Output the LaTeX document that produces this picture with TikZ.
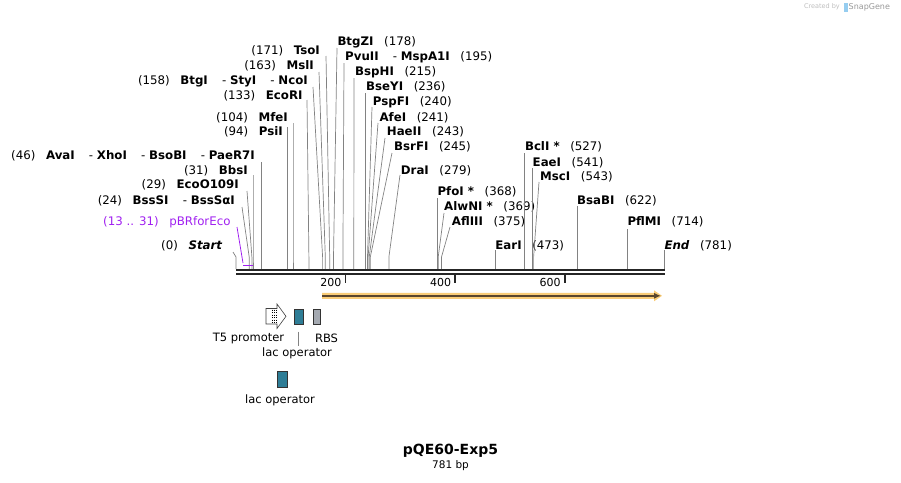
\documentclass[tikz,border=0pt]{standalone}
\usepackage{fontspec}
\setmainfont{DejaVu Sans}
\usetikzlibrary{arrows.meta}
\definecolor{siteg}{RGB}{130,130,130}
\definecolor{purp}{RGB}{160,32,240}
\definecolor{orng}{RGB}{250,205,120}
\definecolor{brwn}{RGB}{90,70,45}
\definecolor{opteal}{RGB}{46,125,150}
\definecolor{rbsg}{RGB}{165,170,178}
\definecolor{wmark}{RGB}{190,190,190}
\definecolor{wblue}{RGB}{150,205,240}
\tikzset{
  lbl/.style={inner sep=0pt, font=\fontsize{11.8}{13}\selectfont, text height=9.5pt, text depth=1.5pt},
  siteline/.style={draw=siteg, line width=0.7pt},
  featlbl/.style={inner sep=0pt, font=\fontsize{11.5}{13}\selectfont},
  featbox/.style={draw=black!80, line width=0.6pt},
}
\newcommand{\lsite}[7]{%
  \node[lbl,anchor=east] (#1) at (#2,#3) {#7};
  \coordinate (#1t) at (#4,#5);
  \coordinate (#1k) at (#6,257);
  \coordinate (#1s) at (#6,269);
  \draw[siteline] (#1t) -- (#1k) -- (#1s);
}
\newcommand{\rsite}[7]{%
  \node[lbl,anchor=west] (#1) at (#2,#3) {#7};
  \coordinate (#1t) at (#4,#5);
  \coordinate (#1k) at (#6,257);
  \coordinate (#1s) at (#6,269);
  \draw[siteline] (#1t) -- (#1k) -- (#1s);
}
\newcommand{\gap}{\hspace{0.9em}}
\newcommand{\dsep}{\hspace{1.2em}-\ }
\begin{document}
\begin{tikzpicture}[x=1pt,y=-1pt]
\useasboundingbox (0,0) rectangle (901,482);
% watermark
\node[inner sep=0, anchor=east, text=wmark, font=\fontsize{6.5}{7}\selectfont] (wm1) at (840,7) {Created by};
\fill[wblue] (844,2.5) rectangle (847.5,11.5);
\node[inner sep=0, anchor=west, text=wmark!80!black, font=\fontsize{8}{9}\selectfont] (wm2) at (848.5,7) {SnapGene};

% left labels
\lsite{start}{222.7}{245}{233}{252}{236}{(0)\gap\textbf{\itshape Start}}
\lsite{bsssi}{235}{200}{242}{207}{249.2}{(24)\gap\textbf{BssSI}\dsep\textbf{BssSαI}}
\lsite{eco109}{239}{184}{247}{191}{251.9}{(29)\gap\textbf{EcoO109I}}
\lsite{bbsi}{248}{170}{253}{175}{253}{(31)\gap\textbf{BbsI}}
\lsite{avai}{255}{155}{261.2}{162}{261.2}{(46)\gap\textbf{AvaI}\dsep\textbf{XhoI}\dsep\textbf{BsoBI}\dsep\textbf{PaeR7I}}
\lsite{psii}{283}{131.7}{287.5}{127}{287.5}{(94)\gap\textbf{PsiI}}
\lsite{mfei}{288}{117}{293}{123}{293}{(104)\gap\textbf{MfeI}}
\lsite{ecori}{302.7}{95}{307}{100}{308.9}{(133)\gap\textbf{EcoRI}}
\lsite{btgi}{308}{80}{313}{87}{322.6}{(158)\gap\textbf{BtgI}\dsep\textbf{StyI}\dsep\textbf{NcoI}}
\lsite{msli}{314}{65}{319}{72}{325.3}{(163)\gap\textbf{MslI}}
\lsite{tsoi}{320}{50.7}{326}{56}{329.7}{(171)\gap\textbf{TsoI}}

% right labels
\rsite{btgzi}{337.3}{41.7}{337}{48}{333.5}{\textbf{BtgZI}\gap(178)}
\rsite{pvuii}{345}{56.7}{344}{63}{342.9}{\textbf{PvuII}\dsep\textbf{MspA1I}\gap(195)}
\rsite{bsphi}{355}{71.7}{354}{78}{353.8}{\textbf{BspHI}\gap(215)}
\rsite{bseyi}{366}{86.7}{365.3}{93}{365.3}{\textbf{BseYI}\gap(236)}
\rsite{pspfi}{372.7}{101.7}{372}{107}{367.5}{\textbf{PspFI}\gap(240)}
\rsite{afei}{379.3}{117}{378}{123}{368.1}{\textbf{AfeI}\gap(241)}
\rsite{haeii}{386.7}{131.7}{385}{138}{369.2}{\textbf{HaeII}\gap(243)}
\rsite{bsrfi}{394}{146.7}{392}{153}{370.3}{\textbf{BsrFI}\gap(245)}
\rsite{drai}{400.7}{170}{400}{175}{388.9}{\textbf{DraI}\gap(279)}
\rsite{pfoi}{437.3}{191.7}{437.7}{198}{437.7}{\textbf{PfoI *}\gap(368)}
\rsite{alwni}{444}{206.7}{444}{213}{438.2}{\textbf{AlwNI *}\gap(369)}
\rsite{afliii}{451.7}{221.7}{450}{227}{441.5}{\textbf{AflIII}\gap(375)}
\rsite{eari}{495.2}{245}{495.2}{250}{495.2}{\textbf{EarI}\gap(473)}
\rsite{bcli}{524.8}{146.7}{524.8}{153}{524.8}{\textbf{BclI *}\gap(527)}
\rsite{eaei}{532.5}{162.3}{532.5}{168}{532.5}{\textbf{EaeI}\gap(541)}
\rsite{msci}{540}{176.7}{539}{182}{533.6}{\textbf{MscI}\gap(543)}
\rsite{bsabi}{576.9}{200}{576.9}{206}{576.9}{\textbf{BsaBI}\gap(622)}
\rsite{pflmi}{627.3}{221.7}{627.3}{229}{627.3}{\textbf{PflMI}\gap(714)}
\rsite{endl}{664.3}{245}{664.3}{250}{664.3}{\textbf{\itshape End}\gap(781)}

% primer pBRforEco
\node[lbl,anchor=east,text=purp] (pbr) at (230.7,221.7) {(13 .. 31)\gap pBRforEco};
\coordinate (pbrt) at (237,227);
\coordinate (pbrb) at (243,263);
\coordinate (pbrL) at (243.1,265.5);
\coordinate (pbrR) at (253,265.5);
\draw[draw=purp, line width=0.8pt] (pbrt) -- (pbrb);
\draw[draw=purp, line width=1.8pt] (pbrL) -- (pbrR);

% backbone
\coordinate (bbL1) at (236,270.2);
\coordinate (bbR1) at (665,270.2);
\coordinate (bbL2) at (236,274.2);
\coordinate (bbR2) at (665,274.2);
\draw[line width=2.3pt, black!85] (bbL1) -- (bbR1);
\draw[line width=2.3pt, black!85] (bbL2) -- (bbR2);

% ticks
\foreach \v/\xx in {200/345.6, 400/455.2, 600/564.8}{
  \coordinate (tk\v a) at (\xx,275);
  \coordinate (tk\v b) at (\xx,283);
  \draw[line width=1.6pt, black!85] (tk\v a) -- (tk\v b);
  \node[inner sep=0, anchor=east, font=\fontsize{11}{12}\selectfont] (tl\v) at (\xx-4,282.3) {\v};
}

% ORF feature
\coordinate (orfL) at (322,295.8);
\coordinate (orfT) at (661,295.8);
\fill[orng] (322,292.8) -- (654,292.8) -- (654,290.3) -- (662,295.8) -- (654,301.3) -- (654,298.8) -- (322,298.8) -- cycle;
\draw[draw=brwn, line width=1.6pt, -{Latex[length=7pt,width=6pt]}] (orfL) -- (orfT);

% T5 promoter
\draw[draw=black!75, fill=white, line width=0.6pt] (266,308.5) -- (277,308.5) -- (277,304) -- (286,316.3) -- (277,328.5) -- (277,324) -- (266,324) -- cycle;
\foreach \dx in {272,274,276}{
  \draw[black, line width=0.5pt, dotted] (\dx,309.5) -- (\dx,323);
}
% lac operator and RBS boxes
\node[featbox, fill=opteal, minimum width=9pt, minimum height=15.5pt, inner sep=0] (lac1) at (298.8,316.8) {};
\node[featbox, fill=rbsg, minimum width=7pt, minimum height=15.5pt, inner sep=0] (rbs) at (316.7,316.8) {};
\node[featbox, fill=opteal, minimum width=10pt, minimum height=15.5pt, inner sep=0] (lac2) at (282,379.5) {};

\node[featlbl] (t5lbl) at (248.5,338) {T5 promoter};
\node[featlbl] (rbslbl) at (326.5,338) {RBS};
\node[featlbl] (lac1lbl) at (297,353.5) {lac operator};
\node[featlbl] (lac2lbl) at (280,400.5) {lac operator};
\coordinate (lac1la) at (298,331.5);
\coordinate (lac1lb) at (298,346);
\draw[draw=siteg, line width=0.6pt] (lac1la) -- (lac1lb);

% title
\node[inner sep=0, font=\fontsize{14}{16}\selectfont\bfseries] (title) at (450.5,451) {pQE60-Exp5};
\node[inner sep=0, font=\fontsize{10.5}{12}\selectfont] (bp) at (450.5,466) {781 bp};
\end{tikzpicture}
\end{document}
